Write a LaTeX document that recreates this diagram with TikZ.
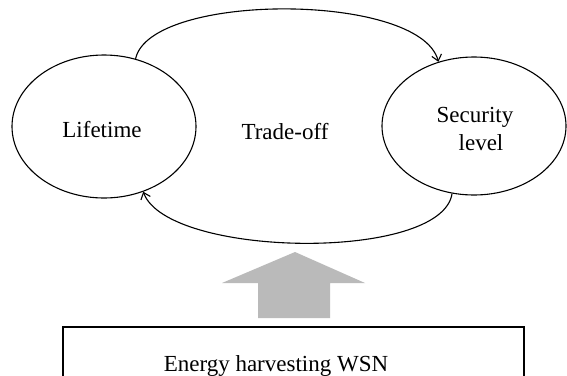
\documentclass[tikz,border=0pt]{standalone}
\usepackage{fontspec}
\setmainfont{Liberation Serif}
\usetikzlibrary{shapes.geometric,arrows.meta}
\definecolor{arrowgray}{RGB}{186,186,186}
\tikzset{
  oval/.style={ellipse, draw, line width=1.1pt, inner sep=0pt},
  lbl/.style={anchor=base, inner sep=0pt, font=\fontsize{23}{28}\selectfont},
  link/.style={line width=1.1pt, -{Straight Barb[length=6pt,width=10pt,line width=1.1pt]}},
  boxstyle/.style={draw, line width=1.1pt, inner sep=0pt}
}
\begin{document}
\begin{tikzpicture}[x=1pt,y=-1pt]
\useasboundingbox[fill=white] (0,0) rectangle (567,375);
\node[oval, minimum width=184pt, minimum height=143pt] (life) at (104,126.5) {};
\node[oval, minimum width=184pt, minimum height=138pt] (sec) at (474,126) {};
\node[lbl] (lifet) at (102,137) {Lifetime};
\node[lbl] (trade) at (285,139) {Trade-off};
\node[lbl] (secur) at (475,122) {Security};
\node[lbl] (level) at (481,150) {level};
\draw[link] (life.65) .. controls (150,-8) and (420,-8) .. (sec.119);
\draw[link] (sec.252) .. controls (442,262) and (168,258) .. (life.301);
\fill[arrowgray] (295,252) coordinate (tip) -- (365,283) -- (330,283) -- (330,318)
  -- (258,318) -- (258,283) -- (222,283) -- cycle;
\node[boxstyle, minimum width=461pt, minimum height=60pt] (wsn) at (293.5,357) {};
\node[lbl] (wsnt) at (276,371) {Energy harvesting WSN};
\end{tikzpicture}
\end{document}
